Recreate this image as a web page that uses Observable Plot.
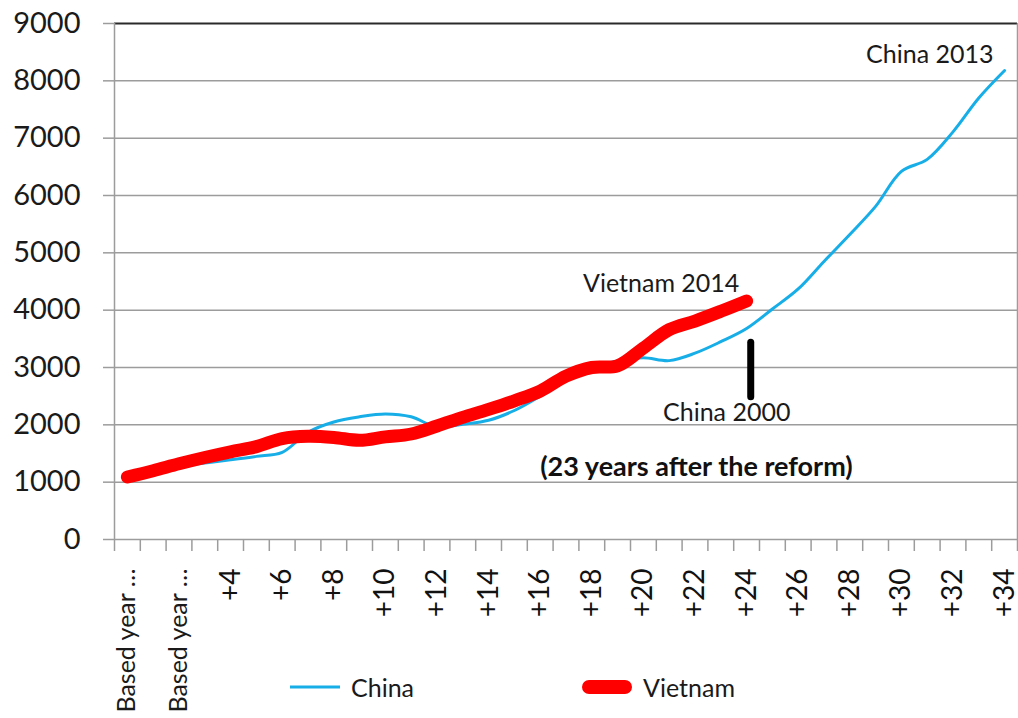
<!DOCTYPE html>
<html>
<head>
<meta charset="utf-8">
<script src="https://cdn.jsdelivr.net/npm/d3@7"></script>
<script src="https://cdn.jsdelivr.net/npm/@observablehq/plot@0.6"></script>
<style>
  html, body { margin: 0; padding: 0; background: #fff; }
  #wrap { position: relative; width: 1018px; height: 718px; font-family: Lato, "Open Sans", sans-serif; color: #1a1a1a; }
  .leg { position: absolute; top: 672px; height: 30px; display: flex; align-items: center; font-size: 25px; }
  .leg svg { margin-right: 9px; }
</style>
</head>
<body>
<div id="wrap"></div>
<script>
// ---- data ----
const steps = [0,1,2,3,4,5,6,7,8,9,10,11,12,13,14,15,16,17,18,19,20,21,22,23,24,25,26,27,28,29,30,31,32,33,34];
const china = [1100,1200,1280,1335,1390,1450,1520,1870,2050,2140,2190,2140,1960,2010,2080,2250,2500,2780,2990,3120,3170,3120,3250,3450,3680,4020,4370,4850,5320,5810,6420,6630,7110,7700,8180];
const vietnam = [1090,1200,1320,1430,1530,1620,1760,1800,1780,1730,1790,1840,1980,2130,2270,2420,2590,2850,3000,3030,3340,3660,3810,3980,4160];
const tickLabels = ["Based year …","Based year …","+4","+6","+8","+10","+12","+14","+16","+18","+20","+22","+24","+26","+28","+30","+32","+34"];
const yTicks = [0,1000,2000,3000,4000,5000,6000,7000,8000,9000];
const annotations = [
  {x: 31.1, y: 8455, text: "China 2013", anchor: "middle", weight: "normal"},
  {x: 20.69, y: 4454, text: "Vietnam 2014", anchor: "middle", weight: "normal"},
  {x: 23.23, y: 2201, text: "China 2000", anchor: "middle", weight: "normal"},
  {x: 16.0, y: 1253, text: "(23 years after the reform)", anchor: "start", weight: "bold"}
];
const marker = [{x: 24.16, y1: 2480, y2: 3430}];

const chinaData = china.map((v, i) => ({step: steps[i], value: v}));
const vietnamData = vietnam.map((v, i) => ({step: steps[i], value: v}));
const labelPos = tickLabels.map((d, i) => steps[i * 2]);
const boundaries = steps.map(s => s - 0.5).concat([steps[steps.length - 1] + 0.5]);

const grid = "#9c9c9c";
const chart = Plot.plot({
  width: 1018,
  height: 718,
  marginLeft: 114,
  marginRight: 1,
  marginTop: 23,
  marginBottom: 179,
  style: {fontFamily: "Lato, 'Open Sans', sans-serif", color: "#1a1a1a", background: "#fff", overflow: "visible"},
  x: {domain: [-0.5, 34.5], axis: null},
  y: {domain: [0, 9000], axis: null},
  marks: [
    Plot.ruleY(yTicks.slice(1, -1), {stroke: grid, strokeWidth: 1.5}),
    Plot.axisY(yTicks, {tickSize: 11, tickPadding: 23, stroke: grid, strokeWidth: 1.5, fill: "#1a1a1a", fontSize: 29, tickFormat: d => String(d)}),
    Plot.ruleY([9000], {stroke: "#2a2a2a", strokeWidth: 2}),
    Plot.ruleY([0], {stroke: grid, strokeWidth: 1.5}),
    Plot.ruleX([boundaries[0], boundaries[boundaries.length - 1]], {stroke: grid, strokeWidth: 1.5}),
    Plot.axisX(boundaries, {tickSize: 12, stroke: grid, strokeWidth: 1.5, tickFormat: () => ""}),
    Plot.axisX(labelPos.slice(0, 2), {tickSize: 0, tickPadding: 29, tickRotate: -90, fontSize: 25, fill: "#1a1a1a", tickFormat: d => tickLabels[labelPos.indexOf(d)]}),
    Plot.axisX(labelPos.slice(2), {tickSize: 0, tickPadding: 29, tickRotate: -90, fontSize: 28, fill: "#111", tickFormat: d => tickLabels[labelPos.indexOf(d)]}),
    Plot.line(chinaData, {x: "step", y: "value", stroke: "#17AEE8", strokeWidth: 3, curve: "catmull-rom"}),
    Plot.line(vietnamData, {x: "step", y: "value", stroke: "#FF0000", strokeWidth: 13, strokeLinecap: "round", strokeLinejoin: "round", curve: "catmull-rom"}),
    Plot.ruleX(marker, {x: "x", y1: "y1", y2: "y2", stroke: "#000", strokeWidth: 7, strokeLinecap: "round"}),
    Plot.text(annotations.filter(d => d.weight === "normal"), {x: "x", y: "y", text: "text", textAnchor: "middle", fontSize: 25, fill: "#1a1a1a"}),
    Plot.text(annotations.filter(d => d.weight === "bold"), {x: "x", y: "y", text: "text", textAnchor: "start", fontSize: 27, fontWeight: "bold", fill: "#111"})
  ]
});

const wrap = document.getElementById("wrap");
wrap.appendChild(chart);

// legend
const legendItems = [
  {name: "China", color: "#17AEE8", width: 3, left: 290},
  {name: "Vietnam", color: "#FF0000", width: 14, left: 582}
];
for (const item of legendItems) {
  const div = document.createElement("div");
  div.className = "leg";
  div.style.left = item.left + "px";
  const ns = "http://www.w3.org/2000/svg";
  const s = document.createElementNS(ns, "svg");
  s.setAttribute("width", 52); s.setAttribute("height", 30);
  const l = document.createElementNS(ns, "line");
  const pad = item.width > 5 ? item.width / 2 : 0;
  l.setAttribute("x1", pad); l.setAttribute("x2", 50 - pad);
  l.setAttribute("y1", 15); l.setAttribute("y2", 15);
  l.setAttribute("stroke", item.color); l.setAttribute("stroke-width", item.width);
  l.setAttribute("stroke-linecap", item.width > 5 ? "round" : "butt");
  s.appendChild(l);
  div.appendChild(s);
  const t = document.createElement("span");
  t.textContent = item.name;
  div.appendChild(t);
  wrap.appendChild(div);
}
</script>
</body>
</html>
